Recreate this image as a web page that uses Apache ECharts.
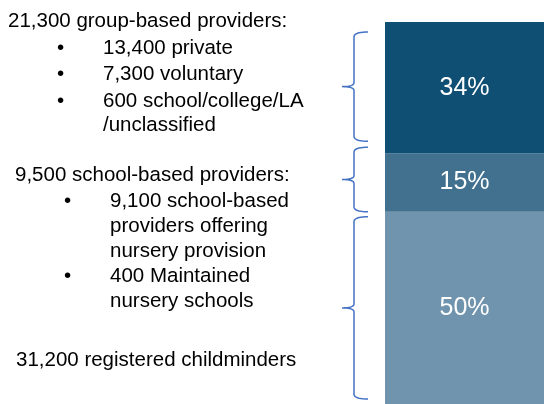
<!DOCTYPE html>
<html lang="en">
<head>
    <meta charset="UTF-8">
    <title>Childcare providers</title>
    <style>
        html, body { margin: 0; padding: 0; background: #fff; }
        .box { width: 544px; height: 404px; }
    </style>
</head>
<body>
    <div class="box" id="myChart"></div>
    <script src="https://cdn.jsdelivr.net/npm/echarts@6/dist/echarts.min.js"></script>
    <script>
        // data (bottom to top of the stack)
        let groups = ['Childminders', 'School-based', 'Group-based'];
        let counts = [31200, 9500, 21300];
        let colors = ['#7094ad', '#41718f', '#104f74'];
        let total = counts.reduce((a, b) => a + b, 0);

        let font = 'Arial, "Liberation Sans", sans-serif';

        // left hand notes: [text, x, y]
        let notes = [
            ['21,300 group-based providers:', 8, 23],
            ['•', 57, 50], ['13,400 private', 103, 50],
            ['•', 57, 76], ['7,300 voluntary', 103, 76],
            ['•', 57, 103], ['600 school/college/LA', 103, 103],
            ['/unclassified', 103, 127],
            ['9,500 school-based providers:', 15, 177],
            ['•', 64, 203], ['9,100 school-based', 110, 203],
            ['providers offering', 110, 228],
            ['nursery provision', 110, 253],
            ['•', 64, 278], ['400 Maintained', 110, 278],
            ['nursery schools', 110, 303],
            ['31,200 registered childminders', 16, 362]
        ];

        let myEchart = echarts.init(document.getElementById('myChart'));

        let option = {
            animation: false,
            grid: { left: 385, right: 0, top: 22, bottom: 0 },
            xAxis: { type: 'category', data: ['all'], show: false },
            yAxis: { type: 'value', min: 0, max: total, show: false },
            series: groups.map((g, i) => ({
                name: g,
                type: 'bar',
                stack: 'all',
                barWidth: '100%',
                itemStyle: { color: colors[i] },
                label: {
                    show: true,
                    position: 'inside',
                    color: '#fff',
                    fontFamily: font,
                    fontSize: 25,
                    formatter: () => Math.round(counts[i] / total * 100) + '%'
                },
                data: [counts[i]]
            })),
            graphic: notes.map(n => ({
                type: 'text',
                left: n[1],
                top: n[2] - 12,
                style: { text: n[0], font: '20.5px ' + font, fill: '#000' }
            }))
        };
        myEchart.setOption(option);

        // quadratic curve points
        function quad(p0, p1, p2, out) {
            for (let t = 0.1; t <= 1.001; t += 0.1) {
                let a = (1 - t) * (1 - t), b = 2 * (1 - t) * t, c = t * t;
                out.push([a * p0[0] + b * p1[0] + c * p2[0], a * p0[1] + b * p1[1] + c * p2[1]]);
            }
        }
        // curly brace as a polyline
        function brace(y0, y1, x) {
            let ym = (y0 + y1) / 2;
            let xr = x + 14, xt = x - 12;
            let pts = [[xr, y0]];
            quad([xr, y0], [x, y0], [x, y0 + 5], pts);
            pts.push([x, ym - 4]);
            quad([x, ym - 4], [x, ym], [xt, ym], pts);
            quad([xt, ym], [x, ym], [x, ym + 4], pts);
            pts.push([x, y1 - 5]);
            quad([x, y1 - 5], [x, y1], [xr, y1], pts);
            return pts;
        }
        let cum = 0, braces = [];
        // [top inset, bottom inset] per segment, bottom to top
        let insets = [[5, 5], [-6, 0], [10, 12]];
        counts.forEach((c, i) => {
            let yb = myEchart.convertToPixel({ yAxisIndex: 0 }, cum);
            let yt = myEchart.convertToPixel({ yAxisIndex: 0 }, cum + c);
            cum += c;
            let ins = insets[i];
            braces.push({
                type: 'polyline',
                shape: { points: brace(yt + ins[0], yb - ins[1], 354) },
                style: { fill: null, stroke: '#4472c4', lineWidth: 1.5 }
            });
        });
        myEchart.setOption({ graphic: option.graphic.concat(braces) });
    </script>
</body>
</html>
